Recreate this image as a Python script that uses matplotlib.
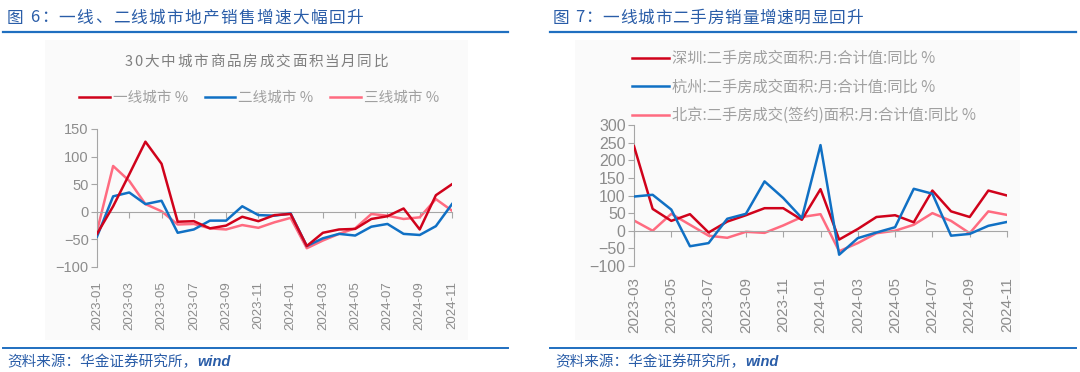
import matplotlib
matplotlib.use("Agg")
import matplotlib.pyplot as plt
from matplotlib.patches import Rectangle
from matplotlib.lines import Line2D

plt.rcParams['font.family'] = ['Liberation Sans', 'Noto Sans CJK SC', 'DejaVu Sans']
CJK = ['Noto Sans CJK SC', 'DejaVu Sans']

RED = '#D0021B'
BLUE = '#1070C4'
PINK = '#FF6B80'
GRAY = '#8C8C8C'
TITLE_BLUE = '#2A5DA8'
LINE_BLUE = '#1F6FC0'

# ---- left chart data: 30大中城市商品房成交面积当月同比 ----
months_left = ['2023-01', '2023-02', '2023-03', '2023-04', '2023-05', '2023-06',
               '2023-07', '2023-08', '2023-09', '2023-10', '2023-11', '2023-12',
               '2024-01', '2024-02', '2024-03', '2024-04', '2024-05', '2024-06',
               '2024-07', '2024-08', '2024-09', '2024-10', '2024-11']
tier1 = [-40, 10, 68, 127, 87, -18, -17, -30, -25, -9, -17, -6,
         -4, -62, -38, -32, -31, -13, -8, 6, -32, 30, 50]
tier2 = [-45, 28, 35, 14, 20, -38, -32, -16, -16, 10, -6, -7,
         -3, -62, -48, -40, -43, -27, -22, -40, -42, -26, 14]
tier3 = [-35, 83, 56, 14, 1, -23, -22, -30, -32, -24, -29, -19,
         -11, -66, -52, -40, -30, -4, -7, -13, -10, 23, 2]

# ---- right chart data: 二手房成交面积同比 ----
months_right = months_left[2:]
shenzhen = [240, 62, 28, 47, -5, 26, 44, 64, 64, 31, 118,
            -25, 5, 39, 44, 24, 114, 55, 39, 114, 100]
hangzhou = [97, 102, 60, -44, -35, 34, 48, 140, 93, 36, 243,
            -68, -21, -5, 10, 119, 105, -14, -9, 14, 25]
beijing = [29, 0, 48, 17, -14, -20, -3, -6, 15, 39, 47,
           -58, -35, -7, 0, 17, 50, 28, -7, 55, 45]

W, H = 1080, 372
fig = plt.figure(figsize=(W / 100, H / 100), dpi=100)
renderer = fig.canvas.get_renderer()


def fx(px):
    return px / W


def fy(py):
    return 1 - py / H


def spaced_text(s, x, y, total, **kw):
    # draw a string char by char, spread out to a total width in pixels
    arts = [fig.text(0, 0, ch, ha='left', va='center', **kw) for ch in s]
    widths = [a.get_window_extent(renderer).width for a in arts]
    gap = (total - sum(widths)) / (len(s) - 1)
    pos = x
    for a, w in zip(arts, widths):
        a.set_position((fx(pos), fy(y)))
        pos += w + gap


# faint panel backgrounds
for x0, x1 in [(45, 468), (575, 1020)]:
    fig.add_artist(Rectangle((fx(x0), fy(340)), fx(x1 - x0), fy(40) - fy(340),
                             transform=fig.transFigure, facecolor='#FAFAFA',
                             edgecolor='none', zorder=-5))

# headers, rules and sources
spaced_text('图 6：一线、二线城市地产销售增速大幅回升', 7, 18, 356, family=CJK,
            fontsize=12, color=TITLE_BLUE)
spaced_text('图 7：一线城市二手房销量增速明显回升', 553, 18, 310, family=CJK,
            fontsize=12, color=TITLE_BLUE)
for x0, x1 in [(3, 508), (550, 1076)]:
    fig.add_artist(Line2D([fx(x0), fx(x1)], [fy(32), fy(32)], color=LINE_BLUE, lw=1.6))
    fig.add_artist(Line2D([fx(x0), fx(x1)], [fy(348), fy(348)], color=LINE_BLUE, lw=1.4))
for xs in [7, 555]:
    fig.text(fx(xs), fy(362), '资料来源：华金证券研究所，', family=CJK, style='italic',
             fontsize=10.5, color=TITLE_BLUE, va='center', ha='left')
    fig.text(fx(xs + 190), fy(362), 'wind', style='italic', weight='bold',
             fontsize=10.5, color=TITLE_BLUE, va='center', ha='left')


def setup_axis(ax, labels, ylo, yhi, ystep, ysize, xsize, xpad):
    n = len(labels)
    ax.set_xlim(0, n - 1)
    ax.set_ylim(ylo, yhi)
    ax.set_facecolor('none')
    ax.set_yticks(range(ylo, yhi + 1, ystep))
    for s in ['top', 'right']:
        ax.spines[s].set_visible(False)
    ax.spines['left'].set_color('#A6A6A6')
    ax.spines['bottom'].set_position(('data', 0))
    ax.spines['bottom'].set_color('#A6A6A6')
    ax.tick_params(axis='y', colors='#A6A6A6', labelcolor=GRAY, labelsize=ysize,
                   length=4, width=0.8, pad=2)
    idx = list(range(0, n, 2))
    ax.set_xticks(idx)
    ax.tick_params(axis='x', colors='#A6A6A6', length=4, width=0.8, labelbottom=False)
    sec = ax.secondary_xaxis(0)
    sec.set_xticks(idx)
    sec.set_xticklabels([labels[i] for i in idx], rotation=90)
    sec.tick_params(length=0, labelcolor=GRAY, labelsize=xsize, pad=xpad)
    sec.spines['bottom'].set_visible(False)


# ---- left chart ----
axl = fig.add_axes([fx(97), fy(267), fx(452 - 97), fy(129) - fy(267)])
xl = range(len(months_left))
axl.plot(xl, tier1, color=RED, lw=1.8, label='一线城市 %', zorder=4)
axl.plot(xl, tier2, color=BLUE, lw=1.8, label='二线城市 %', zorder=3)
axl.plot(xl, tier3, color=PINK, lw=1.8, label='三线城市 %', zorder=2)
setup_axis(axl, months_left, -100, 150, 50, 10.5, 9.5, 10)
spaced_text('30大中城市商品房成交面积当月同比', 125, 62, 263, family=CJK,
            fontsize=10.5, color='#7F7F7F')
leg = axl.legend(loc='center', bbox_to_anchor=(fx(259), fy(98)),
                 bbox_transform=fig.transFigure, ncol=3, frameon=False,
                 handlelength=2.1, handletextpad=0.2, columnspacing=1.15,
                 prop={'family': CJK, 'size': 10.5})
for t in leg.get_texts():
    t.set_color('#A0A0A0')

# ---- right chart ----
axr = fig.add_axes([fx(634), fy(266), fx(1007 - 634), fy(125) - fy(266)])
xr = range(len(months_right))
axr.plot(xr, shenzhen, color=RED, lw=1.8, label='深圳:二手房成交面积:月:合计值:同比 %', zorder=3)
axr.plot(xr, hangzhou, color=BLUE, lw=1.8, label='杭州:二手房成交面积:月:合计值:同比 %', zorder=4)
axr.plot(xr, beijing, color=PINK, lw=1.8, label='北京:二手房成交(签约)面积:月:合计值:同比 %', zorder=2)
setup_axis(axr, months_right, -100, 300, 50, 11.5, 11, 8)
leg2 = axr.legend(loc='upper left', bbox_to_anchor=(fx(632), fy(50)),
                  bbox_transform=fig.transFigure, ncol=1, frameon=False,
                  handlelength=2.4, handletextpad=0.2, labelspacing=0.75,
                  borderaxespad=0, borderpad=0,
                  prop={'family': CJK, 'size': 11})
for t in leg2.get_texts():
    t.set_color('#A0A0A0')

fig.savefig('out.png', dpi=100)
